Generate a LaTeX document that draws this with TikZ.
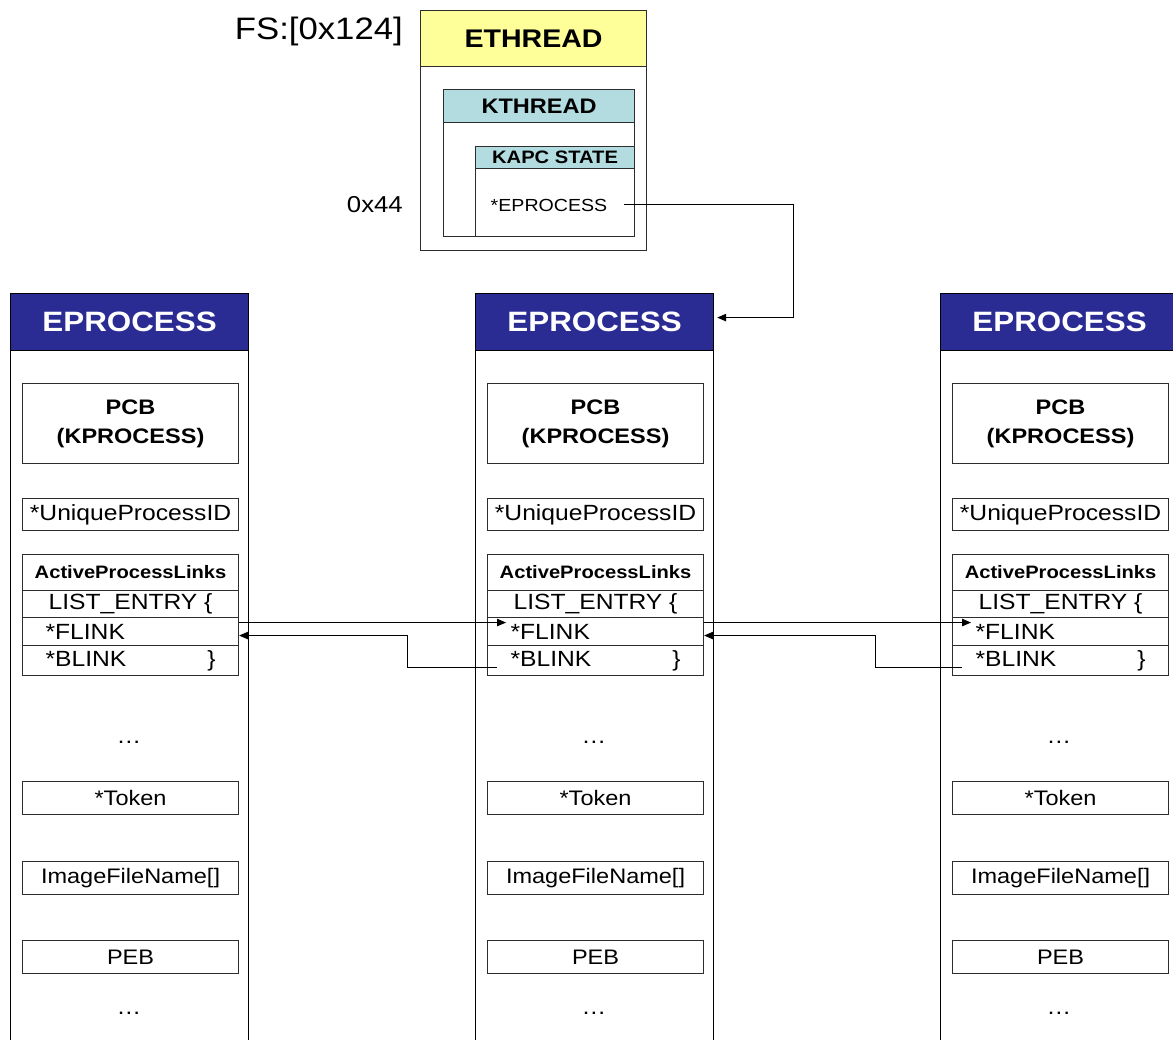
\documentclass[tikz,border=0pt]{standalone}
\usepackage{fontspec}
\setmainfont{Liberation Sans}[FakeStretch=1.12]
\usetikzlibrary{arrows.meta}
\definecolor{navy}{RGB}{43,43,148}
\definecolor{tealhdr}{RGB}{178,220,224}
\definecolor{yelhdr}{RGB}{255,255,153}
\definecolor{lineclr}{RGB}{45,45,45}
\newcommand\fsz[1]{\fontsize{#1}{#1}\selectfont}
\begin{document}
\begin{tikzpicture}[x=1pt,y=-1pt,
  box/.style={draw=lineclr, line width=1.1pt, inner sep=0pt, anchor=north west},
  fld/.style={box, fill=white, minimum width=216pt, font=\fsz{21}},
  lfld/.style={fld, text width=170pt, inner xsep=23pt, align=left},
  dots/.style={font=\fsz{22}, inner sep=0pt},
  arr/.style={line width=1pt, draw=black, -{Triangle[length=9pt,width=7.5pt]}}]
\useasboundingbox (0,0) rectangle (1173,1040);
\fill[white] (0,0) rectangle (1173,1040);

\begin{scope}
\clip (0,0) rectangle (1173,1040);
\foreach \n/\x in {L/10,M/475,R/940}{
  \node[box, draw=black, line width=1.2pt, minimum width=238pt, minimum height=760pt] (\n-col) at (\x,293) {};
  \node[box, draw=black, line width=1.2pt, fill=navy, minimum width=238pt, minimum height=57pt,
        text=white, font=\bfseries\fsz{28}] (\n-hdr) at (\x,293) {EPROCESS};
  \node[fld, minimum height=80pt, align=center, font=\bfseries\fontsize{21}{29}\selectfont] (\n-pcb) at (\x+12,383) {PCB\\(KPROCESS)};
  \node[fld, minimum height=32pt, font=\fsz{22}] (\n-pid) at (\x+12,498) {*UniqueProcessID};
  \node[fld, minimum height=36pt, font=\bfseries\fsz{18}] (\n-apl) at (\x+12,554) {ActiveProcessLinks};
  \node[fld, minimum height=27pt, font=\fsz{22}] (\n-le) at (\x+12,590) {LIST\_ENTRY \{};
  \node[lfld, minimum height=28pt, font=\fsz{22}] (\n-flink) at (\x+12,617) {*FLINK};
  \node[lfld, minimum height=30pt, font=\fsz{22}] (\n-blink) at (\x+12,645) {*BLINK\hfill\}\hspace*{7pt}};
  \node[dots] (\n-d1) at (\x+119,742) {…};
  \node[fld, minimum height=33pt] (\n-tok) at (\x+12,781) {*Token};
  \node[fld, minimum height=33pt] (\n-img) at (\x+12,861) {ImageFileName[]};
  \node[fld, minimum height=33pt] (\n-peb) at (\x+12,940) {PEB};
  \node[dots] (\n-d2) at (\x+119,1013) {…};
}
\end{scope}

% ETHREAD block
\node[box, fill=white, minimum width=226pt, minimum height=240pt] (eth) at (420,10) {};
\node[box, fill=yelhdr, minimum width=226pt, minimum height=56pt, font=\bfseries\fsz{25.5}] (eth-h) at (420,10) {ETHREAD};
\node[box, minimum width=191pt, minimum height=147pt] (kth) at (443,89) {};
\node[box, fill=tealhdr, minimum width=191pt, minimum height=33pt, font=\bfseries\fsz{21}] (kth-h) at (443,89) {KTHREAD};
\node[box, minimum width=159pt, minimum height=90pt] (kapc) at (475,146) {};
\node[box, fill=tealhdr, minimum width=159pt, minimum height=22pt, font=\bfseries\fsz{18}] (kapc-h) at (475,146) {KAPC STATE};
\node[font=\fsz{17.5}, inner sep=1pt] (ep) at (549,205) {*EPROCESS};
\node[anchor=base east, font=\fsz{31}, inner sep=0pt] (fs) at (403,40) {FS:[0x124]};
\node[anchor=base east, font=\fsz{23}, inner sep=0pt] (off) at (403,213) {0x44};

\coordinate (bend) at (793,205);
\draw[arr] ([xshift=16pt]ep.east) -- (bend) |- ([xshift=3pt,yshift=4.5pt]M-hdr.east);

% list links
\draw[arr] ([yshift=9pt]L-flink.east) -- ([xshift=19pt,yshift=9pt]M-flink.west);
\draw[arr] ([yshift=9pt]M-flink.east) -- ([xshift=19pt,yshift=9pt]R-flink.west);
\draw[arr] ([xshift=10pt,yshift=-7pt]M-blink.west) -- ++(-90pt,0) |- ([yshift=-4pt]L-flink.east);
\draw[arr] ([xshift=10pt,yshift=-7pt]R-blink.west) -- ++(-87pt,0) |- ([yshift=-4pt]M-flink.east);
\end{tikzpicture}
\end{document}
